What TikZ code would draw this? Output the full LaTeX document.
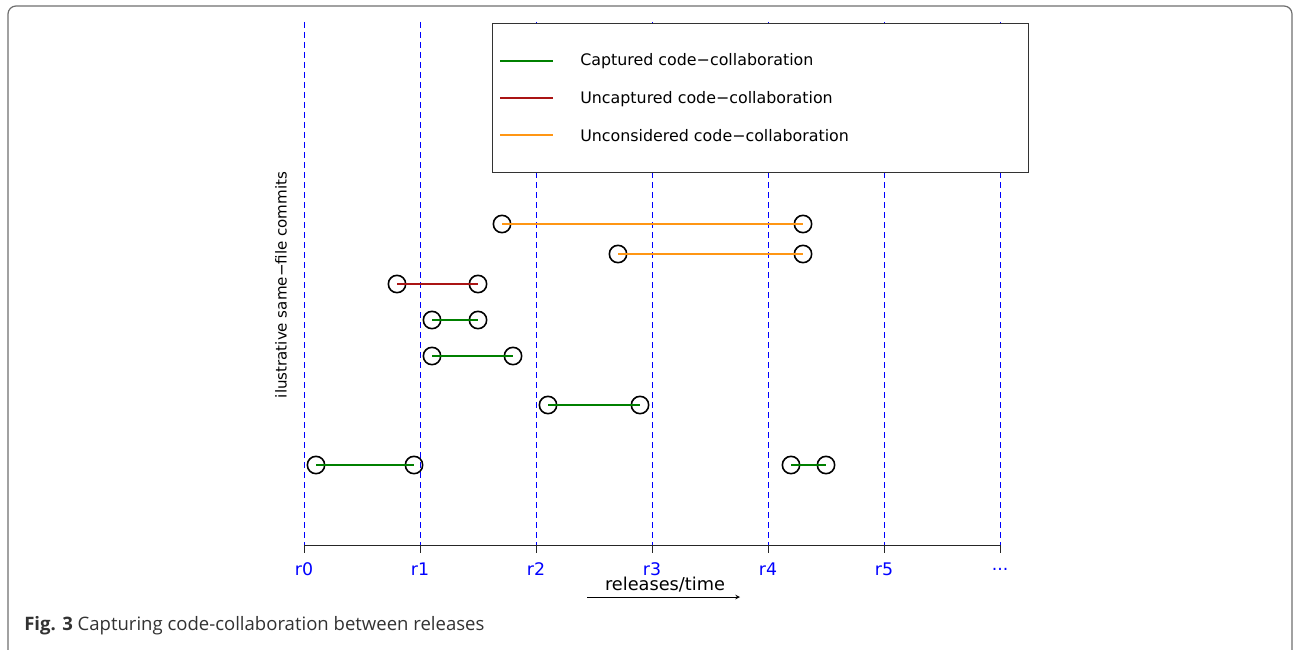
\documentclass[tikz,border=0pt]{standalone}
\usepackage{fontspec}
\setmainfont{DejaVu Sans}
\newfontfamily\capfont{Open Sans}
\definecolor{mgreen}{RGB}{0,128,0}
\definecolor{mred}{RGB}{170,20,20}
\definecolor{morange}{RGB}{255,150,20}
\definecolor{frameg}{RGB}{110,110,110}
\definecolor{capg}{RGB}{50,50,50}
\newcommand\reldots{...}
\begin{document}
\begin{tikzpicture}[x=0.75pt,y=-0.75pt,
  commit/.style={circle,draw=black,line width=1.2pt,minimum size=13pt,inner sep=0pt},
  rel/.style={draw=blue,dash pattern=on 4.5pt off 3pt,line width=0.6pt},
  ticklab/.style={text=blue,font=\fontsize{13}{15}\selectfont,inner sep=0pt},
  captured/.style={draw=mgreen,line width=1.1pt},
  uncaptured/.style={draw=mred,line width=1.1pt},
  unconsidered/.style={draw=morange,line width=1.1pt},
  legtext/.style={anchor=west,font=\fontsize{11.9}{14}\selectfont,inner sep=0pt}]
\useasboundingbox (0,0) rectangle (1294,649);
% frame
\draw[frameg,line width=0.9pt,rounded corners=6pt] (8,652) -- (8,6) -- (1292,6) -- (1292,652);
% release lines and labels
\foreach \n/\x/\lab in {0/304/r0,1/420/r1,2/536/r2,3/652/r3,4/768/r4,5/884/r5,6/1000/\reldots}{
  \coordinate (top\n) at (\x,22);
  \coordinate (bot\n) at (\x,545);
  \coordinate (tk\n) at (\x,553);
  \draw[rel] (top\n) -- (bot\n);
  \draw[black!85,line width=0.6pt] (bot\n) -- (tk\n);
  \node[ticklab] (lab\n) at (\x,569) {\lab};
}
\draw[black!85,line width=0.6pt] (bot0) -- (bot6);
% legend
\node[draw=black!80,fill=white,line width=0.7pt,minimum width=402pt,minimum height=111.75pt,inner sep=0pt,anchor=north west] (legend) at (492,23) {};
\coordinate (l1a) at (500,61); \coordinate (l1b) at (553,61);
\coordinate (l2a) at (500,98); \coordinate (l2b) at (553,98);
\coordinate (l3a) at (500,135); \coordinate (l3b) at (553,135);
\draw[captured] (l1a) -- (l1b);
\draw[uncaptured] (l2a) -- (l2b);
\draw[unconsidered] (l3a) -- (l3b);
\node[legtext] (t1) at (580,61) {Captured code−collaboration};
\node[legtext] (t2) at (580,99) {Uncaptured code−collaboration};
\node[legtext] (t3) at (580,136) {Unconsidered code−collaboration};
% commits
\node[commit] (a1) at (502,224) {}; \node[commit] (a2) at (803,224) {};
\node[commit] (b1) at (618,254) {}; \node[commit] (b2) at (803,254) {};
\node[commit] (c1) at (397,284) {}; \node[commit] (c2) at (478,284) {};
\node[commit] (d1) at (432,320) {}; \node[commit] (d2) at (478,320) {};
\node[commit] (e1) at (432,356) {}; \node[commit] (e2) at (513,356) {};
\node[commit] (f1) at (548,405) {}; \node[commit] (f2) at (640,405) {};
\node[commit] (g1) at (316,465) {}; \node[commit] (g2) at (414,465) {};
\node[commit] (h1) at (791,465) {}; \node[commit] (h2) at (826,465) {};
\draw[unconsidered] (a1.center) -- (a2.center);
\draw[unconsidered] (b1.center) -- (b2.center);
\draw[uncaptured] (c1.center) -- (c2.center);
\draw[captured] (d1.center) -- (d2.center);
\draw[captured] (e1.center) -- (e2.center);
\draw[captured] (f1.center) -- (f2.center);
\draw[captured] (g1.center) -- (g2.center);
\draw[captured] (h1.center) -- (h2.center);
% axis labels
\node[rotate=90,font=\fontsize{11.3}{13}\selectfont,inner sep=0pt] (ylab) at (281,285) {ilustrative same−file commits};
\node[font=\fontsize{13.3}{15}\selectfont,inner sep=0pt] (xlab) at (665,585) {releases/time};
\coordinate (ar1) at (587,597); \coordinate (ar2) at (740,597);
\draw[-stealth,line width=0.6pt] (ar1) -- (ar2);
% caption
\node[anchor=west,inner sep=0pt,text=capg,font=\capfont\fontsize{13.9}{16}\selectfont] (caption) at (24,626) {\textbf{Fig. 3} Capturing code-collaboration between releases};
\end{tikzpicture}
\end{document}
